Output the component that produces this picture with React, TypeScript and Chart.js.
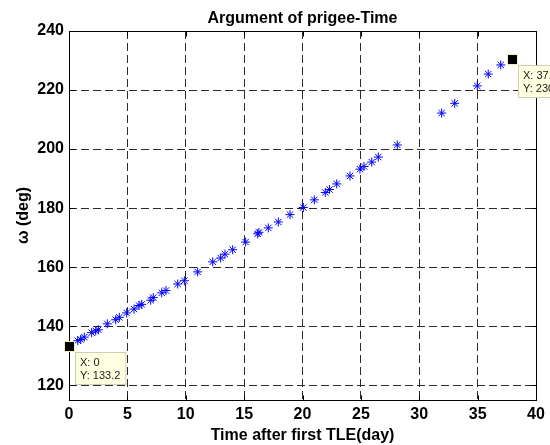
import React, { useEffect, useRef } from 'react';
import { Chart, registerables } from 'chart.js';

Chart.register(...registerables);

const chartTitle = 'Argument of prigee-Time';
const xTitle = 'Time after first TLE(day)';
const yTitle = 'ω (deg)';

const timeDays = [
  0, 0.75, 1.0, 1.31, 1.94, 2.29, 2.51, 3.28, 4.0, 4.31, 4.94, 5.57, 6.0, 6.23,
  7.0, 7.22, 7.94, 8.31, 9.31, 9.88, 11.02, 12.31, 12.99, 13.36, 14.02, 15.13,
  16.16, 16.27, 17.07, 17.93, 18.93, 20.07, 21.01, 21.95, 22.31, 22.93, 24.07,
  24.92, 25.27, 25.93, 26.49, 28.12, 31.92, 33.04, 34.97, 35.91, 36.98, 37.97,
];
const omegaDeg = [
  133.2, 135.1, 135.5, 136.3, 137.8, 138.4, 138.8, 140.8, 142.2, 143.0, 144.5,
  145.8, 147.0, 147.4, 148.8, 149.7, 151.3, 152.1, 154.3, 155.4, 158.4, 161.8,
  163.1, 164.4, 165.9, 168.5, 171.3, 171.8, 173.3, 175.3, 177.8, 180.2, 182.8,
  185.3, 186.3, 188.2, 190.9, 193.2, 194.1, 195.6, 197.3, 201.4, 212.2, 215.5,
  221.4, 225.4, 228.5, 230.5,
];
const xTicks = [0, 5, 10, 15, 20, 25, 30, 35, 40];
const yTicks = [120, 140, 160, 180, 200, 220, 240];
const xRange = [0, 40];
const yRange = [115, 240];
const tipIndices = [0, timeDays.length - 1];

const FONT = '"Liberation Sans", Arial, Helvetica, sans-serif';

const fmt = (v: number) => String(+v.toPrecision(4));

function drawTip(ctx: CanvasRenderingContext2D, px: number, py: number, lines: string[]) {
  const cx = Math.round(px);
  const cy = Math.round(py);
  const bx = cx + 6;
  const by = cy + 6;
  ctx.font = `11px ${FONT}`;
  const w = Math.max(...lines.map((l) => ctx.measureText(l).width)) + 11;
  const h = 33;
  ctx.fillStyle = '#ffffe1';
  ctx.fillRect(bx, by, w, h);
  ctx.strokeStyle = '#cfcdb4';
  ctx.lineWidth = 1;
  ctx.strokeRect(bx + 0.5, by + 0.5, w - 1, h - 1);
  ctx.fillStyle = '#1a1a1a';
  ctx.textAlign = 'left';
  ctx.textBaseline = 'middle';
  lines.forEach((l, i) => ctx.fillText(l, bx + 5, by + 10.5 + i * 13));
  ctx.fillStyle = '#f3eeb0';
  ctx.fillRect(cx - 5, cy - 5, 11, 11);
  ctx.fillStyle = '#000';
  ctx.fillRect(cx - 4, cy - 4, 9, 9);
}

const matlabFrame = {
  id: 'matlabFrame',
  afterDatasetsDraw(chart: any) {
    const { ctx, chartArea } = chart;
    const xs = chart.scales.x;
    const ys = chart.scales.y;
    const L = Math.round(chartArea.left) + 0.5;
    const R = Math.round(chartArea.right) + 0.5;
    const T = Math.round(chartArea.top) + 0.5;
    const B = Math.round(chartArea.bottom) + 0.5;
    ctx.save();
    ctx.setLineDash([]);
    ctx.strokeStyle = '#000';
    ctx.lineWidth = 1;
    ctx.strokeRect(L, T, R - L, B - T);
    ctx.beginPath();
    xTicks.forEach((v) => {
      const p = Math.round(xs.getPixelForValue(v)) + 0.5;
      ctx.moveTo(p, B);
      ctx.lineTo(p, B - 5);
      ctx.moveTo(p, T);
      ctx.lineTo(p, T + 5);
    });
    yTicks.forEach((v) => {
      const p = Math.round(ys.getPixelForValue(v)) + 0.5;
      ctx.moveTo(L, p);
      ctx.lineTo(L + 5, p);
      ctx.moveTo(R, p);
      ctx.lineTo(R - 5, p);
    });
    ctx.stroke();
    tipIndices.forEach((i) => {
      const px = xs.getPixelForValue(timeDays[i]);
      const py = ys.getPixelForValue(omegaDeg[i]);
      drawTip(ctx, px, py, [`X: ${fmt(timeDays[i])}`, `Y: ${fmt(omegaDeg[i])}`]);
    });
    ctx.restore();
  },
};

export default function App() {
  const ref = useRef<HTMLCanvasElement | null>(null);

  useEffect(() => {
    document.body.style.margin = '0';
    const canvas = ref.current;
    if (!canvas) return;
    const tickFont = { family: FONT, size: 16, weight: 'bold' as const };
    const chart = new Chart(canvas, {
      type: 'scatter',
      data: {
        datasets: [
          {
            data: timeDays.map((x, i) => ({ x, y: omegaDeg[i] })),
            pointStyle: 'star',
            radius: 4.5,
            borderColor: '#0000ff',
            backgroundColor: '#0000ff',
            borderWidth: 1,
          },
        ],
      },
      options: {
        animation: false,
        responsive: false,
        devicePixelRatio: 1,
        layout: { padding: { top: 0, right: 14, bottom: 0, left: 0 } },
        plugins: {
          legend: { display: false },
          tooltip: { enabled: false },
          title: {
            display: true,
            text: chartTitle,
            fullSize: false,
            color: '#000',
            font: { family: FONT, size: 16, weight: 'bold' },
            padding: { top: 9, bottom: 2.8 },
          },
        },
        scales: {
          x: {
            type: 'linear',
            min: xRange[0],
            max: xRange[1],
            afterBuildTicks: (s: any) => {
              s.ticks = xTicks.map((value) => ({ value }));
            },
            afterFit: (s: any) => {
              s.height = 45;
            },
            ticks: { font: tickFont, color: '#000', padding: 5, maxRotation: 0, autoSkip: false },
            grid: { color: '#2a2a2a', lineWidth: 1, drawTicks: false, tickLength: 0 },
            border: { display: false, dash: [8, 4] },
            title: {
              display: true,
              text: xTitle,
              color: '#000',
              font: { family: FONT, size: 16, weight: 'bold' },
              padding: { top: 0, bottom: 0 },
            },
          },
          y: {
            type: 'linear',
            min: yRange[0],
            max: yRange[1],
            afterBuildTicks: (s: any) => {
              s.ticks = yTicks.map((value) => ({ value }));
            },
            afterFit: (s: any) => {
              s.width = 69;
            },
            ticks: { font: tickFont, color: '#000', padding: 5, autoSkip: false },
            grid: { color: '#2a2a2a', lineWidth: 1, drawTicks: false, tickLength: 0 },
            border: { display: false, dash: [8, 4] },
            title: {
              display: true,
              text: yTitle,
              color: '#000',
              font: { family: FONT, size: 16, weight: 'bold' },
              padding: { top: 14, bottom: 0 },
            },
          },
        },
      },
      plugins: [matlabFrame],
    } as any);
    return () => chart.destroy();
  }, []);

  return (
    <div style={{ width: 550, height: 445, background: '#fff' }}>
      <canvas ref={ref} width={550} height={445} style={{ display: 'block' }} />
    </div>
  );
}
